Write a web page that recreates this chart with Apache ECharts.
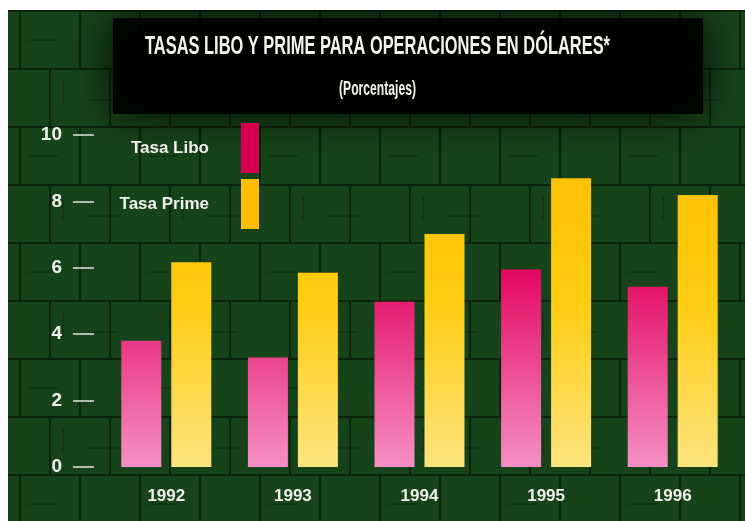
<!DOCTYPE html>
<html>
<head>
<meta charset="utf-8">
<script src="https://cdn.jsdelivr.net/npm/echarts@6/dist/echarts.min.js"></script>
<style>
  html, body { margin: 0; padding: 0; background: #fff; }
  #main {
    position: absolute; left: 8px; top: 10px;
    width: 737px; height: 511px;
    background-color: #17431a;
  }
</style>
</head>
<body>
<div id="main"></div>
<script>
// datos
var years = ["1992", "1993", "1994", "1995", "1996"];
var tasaLibo = [3.8, 3.3, 4.98, 5.95, 5.43];
var tasaPrime = [6.17, 5.85, 7.02, 8.7, 8.19];
var yMin = 0, yMax = 10, yStep = 2;

var titulo = "TASAS LIBO Y PRIME PARA OPERACIONES EN DÓLARES*";
var subtitulo = "(Porcentajes)";

var FONT = '"Liberation Sans", Arial, sans-serif';

// textura de fondo (ladrillos oscuros)
function makeTexture() {
  var c = document.createElement("canvas");
  c.width = 120; c.height = 116;
  var g = c.getContext("2d");
  g.fillStyle = "#17431a";
  g.fillRect(0, 0, 120, 116);
  g.strokeStyle = "#0b240c";
  g.lineWidth = 2;
  g.beginPath();
  g.moveTo(0, 1); g.lineTo(120, 1);
  g.moveTo(0, 59); g.lineTo(120, 59);
  g.moveTo(12, 0); g.lineTo(12, 58);
  g.moveTo(72, 0); g.lineTo(72, 58);
  g.moveTo(42, 58); g.lineTo(42, 116);
  g.moveTo(102, 58); g.lineTo(102, 116);
  g.stroke();
  g.strokeStyle = "rgba(10,30,10,0.6)";
  g.lineWidth = 1;
  g.beginPath();
  g.moveTo(20, 30); g.lineTo(50, 30);
  g.moveTo(80, 90); g.lineTo(110, 90);
  g.moveTo(55, 70); g.lineTo(55, 95);
  g.stroke();
  return c.toDataURL();
}
document.getElementById("main").style.backgroundImage = "url(" + makeTexture() + ")";

// ancho del texto para comprimirlo como la tipografia original
function textWidth(txt, font) {
  var ctx = document.createElement("canvas").getContext("2d");
  ctx.font = font;
  return ctx.measureText(txt).width;
}
var titleScale = 465 / textWidth(titulo, "bold 26px " + FONT);
var subScale = 77 / textWidth(subtitulo, "bold 20px " + FONT);

var myChart = echarts.init(document.getElementById("main"));

var option = {
  animation: false,
  backgroundColor: "transparent",
  graphic: [
    {
      type: "rect",
      z: 1,
      shape: { x: 105, y: 8, width: 590, height: 96 },
      style: {
        fill: "rgba(0,0,0,0.85)",
        shadowBlur: 40,
        shadowColor: "rgba(0,0,0,1)"
      }
    },
    {
      type: "text",
      z: 5,
      x: 369.5,
      y: 37,
      scaleX: titleScale,
      style: {
        text: titulo,
        align: "center",
        verticalAlign: "middle",
        fill: "#f4f4ee",
        font: "bold 26px " + FONT
      }
    },
    {
      type: "text",
      z: 5,
      x: 369.5,
      y: 79,
      scaleX: subScale,
      style: {
        text: subtitulo,
        align: "center",
        verticalAlign: "middle",
        fill: "#f4f4ee",
        font: "bold 20px " + FONT
      }
    }
  ],
  legend: {
    orient: "vertical",
    right: 486,
    top: 113,
    padding: 0,
    align: "right",
    itemWidth: 18,
    itemHeight: 50,
    itemGap: 6,
    icon: "rect",
    selectedMode: false,
    formatter: "{a|{name}}",
    textStyle: {
      color: "#f0f0ea",
      rich: {
        a: {
          color: "#f0f0ea",
          fontSize: 17,
          fontWeight: "bold",
          fontFamily: FONT,
          padding: [0, 27, 0, 0]
        }
      }
    },
    data: ["Tasa Libo", "Tasa Prime"]
  },
  grid: {
    left: 95,
    right: 9,
    top: 125,
    bottom: 54
  },
  xAxis: {
    type: "category",
    data: years,
    axisLine: { show: false },
    axisTick: { show: false },
    axisLabel: {
      margin: 21,
      color: "#f0f0ea",
      fontSize: 17,
      fontWeight: "bold",
      fontFamily: FONT
    }
  },
  yAxis: {
    type: "value",
    min: yMin,
    max: yMax,
    interval: yStep,
    offset: 9,
    axisLine: { show: false },
    axisTick: {
      show: true,
      length: 21,
      lineStyle: { color: "#e6e6e0", width: 1.5 }
    },
    axisLabel: {
      margin: 32,
      color: "#f0f0ea",
      fontSize: 19,
      fontWeight: "bold",
      fontFamily: FONT
    },
    splitLine: { show: false }
  },
  series: [
    {
      name: "Tasa Libo",
      type: "bar",
      barWidth: 40,
      barGap: "25%",
      data: tasaLibo,
      itemStyle: {
        color: new echarts.graphic.LinearGradient(0, 125, 0, 457, [
          { offset: 0, color: "#d60052" },
          { offset: 0.4, color: "#e3065f" },
          { offset: 1, color: "#f590c4" }
        ], true)
      }
    },
    {
      name: "Tasa Prime",
      type: "bar",
      barWidth: 40,
      data: tasaPrime,
      itemStyle: {
        color: new echarts.graphic.LinearGradient(0, 125, 0, 457, [
          { offset: 0, color: "#ffbe00" },
          { offset: 0.5, color: "#ffcc10" },
          { offset: 1, color: "#fde47e" }
        ], true)
      }
    }
  ]
};
myChart.setOption(option);
</script>
</body>
</html>
